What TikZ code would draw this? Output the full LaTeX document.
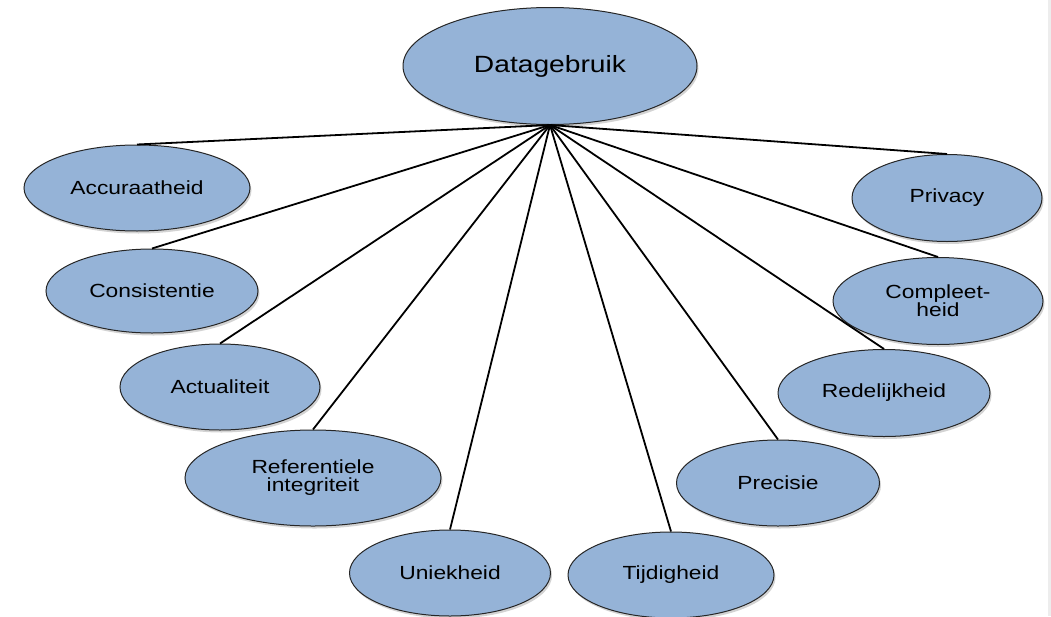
\documentclass[tikz,border=0pt]{standalone}
\usepackage{fontspec}
\setmainfont[FakeStretch=1.2]{Liberation Sans}
\usetikzlibrary{shapes.geometric,shadows}
\definecolor{vakblauw}{RGB}{149,179,215}
\begin{document}
\begin{tikzpicture}[x=1pt,y=-1pt,
  kwal/.style={shape=ellipse, draw=black!85, line width=1pt, fill=vakblauw, inner sep=0pt,
    drop shadow={shadow xshift=1.5pt, shadow yshift=-2.5pt, opacity=0.35},
    font=\fontsize{19}{18}\selectfont, align=center},
  tak/.style={-, line width=1.8pt, draw=black}]
\useasboundingbox (0,0) rectangle (1051,616);
\fill[black!7] (1048,0) rectangle (1051,616);
\node[kwal, minimum width=294pt, minimum height=117pt, font=\fontsize{23.5}{26}\selectfont] (D) at (550,66) {Datagebruik};
\node[kwal, minimum width=226pt, minimum height=86pt] (acc) at (137,188) {Accuraatheid};
\node[kwal, minimum width=212pt, minimum height=84pt] (con) at (152,291) {Consistentie};
\node[kwal, minimum width=200pt, minimum height=86pt] (act) at (220,387) {Actualiteit};
\node[kwal, minimum width=256pt, minimum height=96pt] (ref) at (313,478) {Referentiele\\integriteit};
\node[kwal, minimum width=201pt, minimum height=86pt] (uni) at (450,573) {Uniekheid};
\node[kwal, minimum width=206pt, minimum height=86pt] (tij) at (671,575) {Tijdigheid};
\node[kwal, minimum width=203pt, minimum height=86pt] (pre) at (778,483) {Precisie};
\node[kwal, minimum width=212pt, minimum height=87pt] (red) at (884,393) {Redelijkheid};
\node[kwal, minimum width=210pt, minimum height=87pt] (com) at (938,301) {Compleet-\\heid};
\node[kwal, minimum width=190pt, minimum height=87pt] (pri) at (947,198) {Privacy};
\path [tak] (D.south) edge (acc.north);
\path [tak] (D.south) edge (con.north);
\path [tak] (D.south) edge (act.north);
\path [tak] (D.south) edge (ref.north);
\path [tak] (D.south) edge (uni.north);
\path [tak] (D.south) edge (tij.north);
\path [tak] (D.south) edge (pre.north);
\path [tak] (D.south) edge (red.north);
\path [tak] (D.south) edge (com.north);
\path [tak] (D.south) edge (pri.north);
\end{tikzpicture}
\end{document}
